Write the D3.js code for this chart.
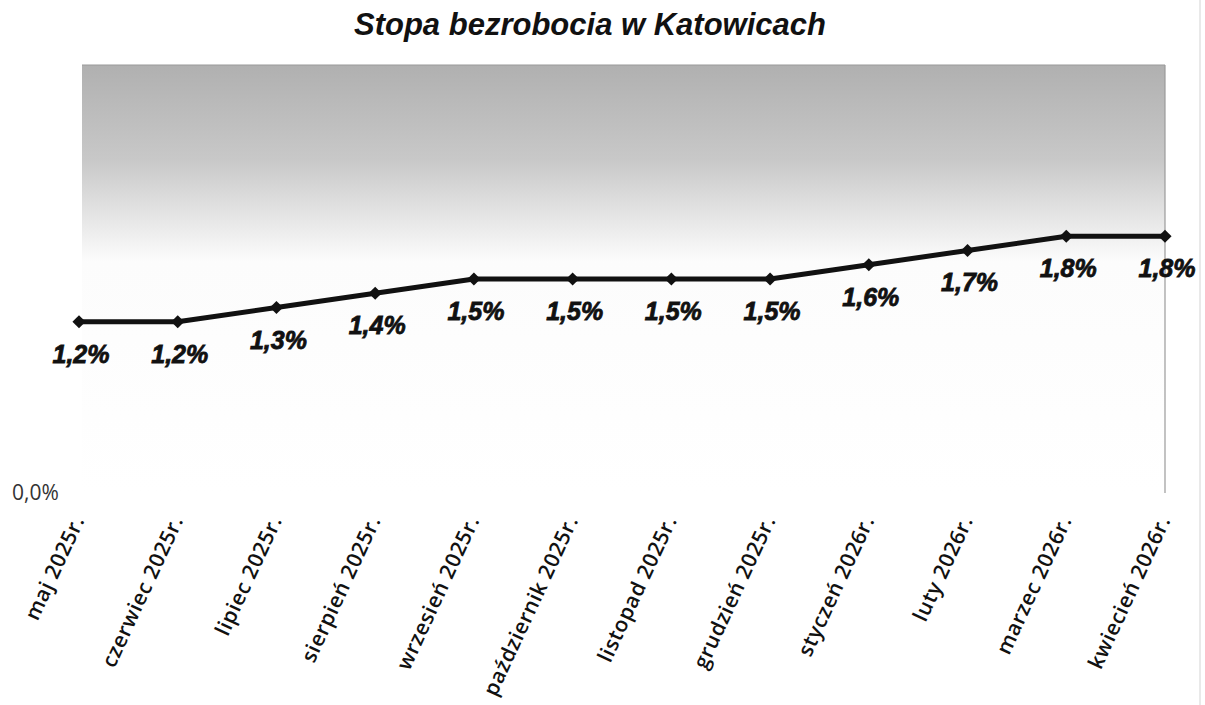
<!DOCTYPE html>
<html><head><meta charset="utf-8">
<script src="https://cdn.jsdelivr.net/npm/d3@7"></script>
<style>body{margin:0;background:#fff}svg{display:block}</style>
</head><body>
<svg id="c" width="1205" height="705"></svg>
<script>
const title = "Stopa bezrobocia w Katowicach";
const categories = ["maj 2025r.","czerwiec 2025r.","lipiec 2025r.","sierpień 2025r.","wrzesień 2025r.","październik 2025r.","listopad 2025r.","grudzień 2025r.","styczeń 2026r.","luty 2026r.","marzec 2026r.","kwiecień 2026r."];
const values = [1.2,1.2,1.3,1.4,1.5,1.5,1.5,1.5,1.6,1.7,1.8,1.8];
const yTicks = [0];

const svg = d3.select("#c");
const x = d3.scalePoint().domain(categories).range([79,1165]);
const y = d3.scaleLinear().domain([0,3]).range([493,65]);
const fmt = v => d3.format(".1f")(v).replace(".", ",") + "%";

const defs = svg.append("defs");
const g = defs.append("linearGradient").attr("id","bg").attr("x1",0).attr("y1",0).attr("x2",0).attr("y2",1);
g.append("stop").attr("offset","0").attr("stop-color","#b0b0b0");
g.append("stop").attr("offset","0.22").attr("stop-color","#c8c8c8");
g.append("stop").attr("offset","0.46").attr("stop-color","#fcfcfc");
g.append("stop").attr("offset","1").attr("stop-color","#ffffff");

svg.append("rect").attr("x",82).attr("y",y(3)).attr("width",x.range()[1]-82).attr("height",y(0)-y(3)).attr("fill","url(#bg)");
svg.append("line").attr("x1",82).attr("x2",x.range()[1]).attr("y1",y(3)).attr("y2",y(3)).attr("stroke","#9a9a9a").attr("stroke-width",1.2);
svg.append("line").attr("x1",x.range()[1]).attr("x2",x.range()[1]).attr("y1",y(3)).attr("y2",y(0)).attr("stroke","#9a9a9a").attr("stroke-width",1.2);
svg.append("line").attr("x1",1200).attr("x2",1200).attr("y1",0).attr("y2",705).attr("stroke","#e2e2e2").attr("stroke-width",1.5);

svg.append("text").attr("x",590).attr("y",35).attr("text-anchor","middle")
  .style("font-family","'Liberation Sans', Arial, sans-serif").style("font-weight","bold").style("font-style","italic")
  .style("font-size","31px").attr("fill","#111").text(title);

svg.selectAll("text.yt").data(yTicks).join("text").attr("class","yt")
  .attr("x",12).attr("y",d=>y(d)).attr("dy","0.35em")
  .style("font-family","'Open Sans', sans-serif").style("font-size","21px").attr("fill","#333")
  .text(fmt);

svg.selectAll("text.xt").data(categories).join("text").attr("class","xt")
  .attr("transform",d=>`translate(${x(d)+6},520) rotate(-65)`)
  .attr("text-anchor","end")
  .style("font-family","'Open Sans', sans-serif").style("font-weight","600").style("font-size","21px")
  .style("letter-spacing","0.6px").attr("fill","#111").text(d=>d);

const line = d3.line().x((d,i)=>x(categories[i])).y(d=>y(d));
svg.append("path").datum(values).attr("d",line).attr("fill","none").attr("stroke","#111").attr("stroke-width",5).attr("stroke-linejoin","round");
svg.selectAll("path.mk").data(values).join("path").attr("class","mk")
  .attr("d",d3.symbol().type(d3.symbolDiamond2).size(110))
  .attr("transform",(d,i)=>`translate(${x(categories[i])},${y(d)})`).attr("fill","#111");

svg.selectAll("text.dl").data(values).join("text").attr("class","dl")
  .attr("x",(d,i)=>x(categories[i])+2).attr("y",d=>y(d)+41).attr("text-anchor","middle")
  .style("font-family","'Liberation Sans', Arial, sans-serif").style("font-weight","bold").style("font-style","italic")
  .style("font-size","25px").attr("fill","#111").attr("stroke","#111").attr("stroke-width",0.8).text(fmt);
</script>
</body></html>
